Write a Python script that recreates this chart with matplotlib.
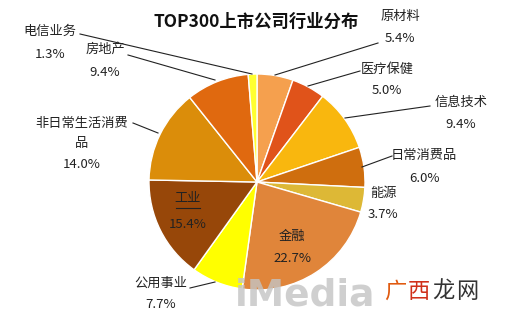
import matplotlib.pyplot as plt

plt.rcParams['font.family'] = ['Noto Sans CJK SC', 'DejaVu Sans']

industries = ["原材料", "医疗保健", "信息技术", "日常消费品", "能源", "金融",
              "公用事业", "工业", "非日常生活消费品", "房地产", "电信业务"]
shares = [5.4, 5.0, 9.4, 6.0, 3.7, 22.7, 7.7, 15.4, 14.0, 9.4, 1.3]
colors = ["#F5A04E", "#E0531A", "#F9B70E", "#CF6E0E", "#DDB836", "#E0853A",
          "#FFFF00", "#974709", "#DB8D0A", "#E0690F", "#FFFF30"]

W, H = 513, 320
fig = plt.figure(figsize=(W / 100, H / 100), dpi=100)
ax = fig.add_axes([0, 0, 1, 1])


def Y(py):
    return H - py


ax.pie(shares, colors=colors, startangle=90, counterclock=False,
       center=(257, Y(182)), radius=108, frame=True,
       wedgeprops=dict(edgecolor='white', linewidth=1))
ax.set_xlim(0, W)
ax.set_ylim(0, H)
ax.set_aspect('equal')
ax.axis('off')

# label layout: (name x, name y, pct y, line from, line to)
layout = {
    "原材料": (400, 16, 39, (275, 75), (378, 43)),
    "医疗保健": (387, 69, 91, (308, 86), (360, 71)),
    "信息技术": (461, 102, 124, (345, 118), (430, 106)),
    "日常消费品": (424, 156, 178, (362, 167), (392, 156)),
    "能源": (383, 193, 215, None, None),
    "金融": (292, 236, 258, None, None),
    "公用事业": (161, 283, 305, (215, 282), (190, 288)),
    "工业": (188, 199, 224, None, None),
    "房地产": (105, 49, 72, (215, 80), (128, 55)),
    "电信业务": (50, 31, 55, (252, 74), (80, 34)),
}

for name, val in zip(industries, shares):
    pct = f"{val:.1f}%"
    if name == "非日常生活消费品":
        ax.text(82, Y(123), "非日常生活消费", ha='center', va='center', fontsize=9.5, color='#222222')
        ax.text(82, Y(143), "品", ha='center', va='center', fontsize=9.5, color='#222222')
        ax.text(82, Y(164), pct, ha='center', va='center', fontsize=9.5, color='#222222')
        ax.plot([158, 133], [Y(133), Y(123)], color='#222222', lw=0.8)
        continue
    x, ny, py, p0, p1 = layout[name]
    ax.text(x, Y(ny), name, ha='center', va='center', fontsize=9.5, color='#222222')
    ax.text(x, Y(py), pct, ha='center', va='center', fontsize=9.5, color='#222222')
    if p0 is not None:
        ax.plot([p0[0], p1[0]], [Y(p0[1]), Y(p1[1])], color='#222222', lw=0.8)

ax.plot([176, 200], [Y(208), Y(208)], color='#222222', lw=0.8)

ax.text(256, Y(22), "TOP300上市公司行业分布", ha='center', va='center',
        fontsize=12.5, fontweight='bold', color='#111111')

# watermarks
ax.text(305, Y(296), "iMedia", ha='center', va='center', fontsize=27,
        fontweight='bold', color='#C4C4C4', alpha=0.8, family='DejaVu Sans')
for ch, cx, col in [("广", 395, '#E05A10'), ("西", 419, '#D0301A'),
                    ("龙", 443, '#333333'), ("网", 467, '#333333')]:
    ax.text(cx, Y(291), ch, ha='center', va='center', fontsize=16, color=col)

fig.savefig("out.png", dpi=100)
